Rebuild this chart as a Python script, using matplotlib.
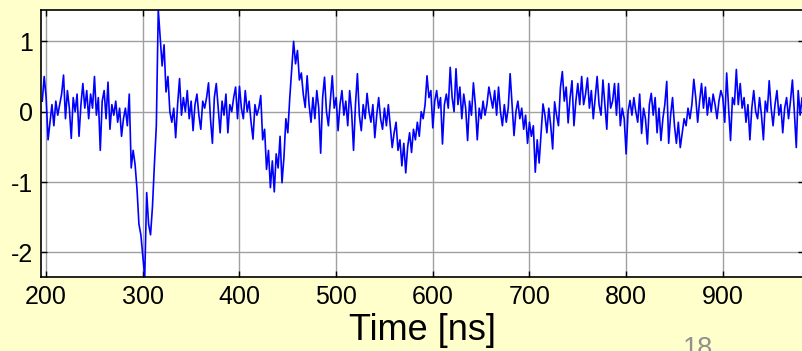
"""
Scope trace vs time, redrawn from the slide figure
"""
import numpy as np
import matplotlib.pyplot as plt

plt.rcParams['font.family'] = ['Liberation Sans', 'DejaVu Sans']

# sample times [ns], 2 ns steps from 196 to 984
t_start = 196
t_step = 2

# signal, 10 samples (20 ns) per row
signal = [
    0.15, 0.50, 0.20, -0.40, -0.15, 0.10, -0.20, 0.15, -0.05, 0.10,
    0.25, 0.52, -0.10, 0.30, 0.05, -0.38, 0.20, 0.00, 0.25, -0.35,
    0.10, 0.40, 0.05, 0.30, -0.10, 0.25, 0.05, 0.50, -0.05, 0.20,
    -0.55, 0.15, 0.30, -0.10, 0.42, -0.25, 0.10, -0.05, 0.15, -0.15,
    0.05, -0.35, -0.10, 0.05, -0.20, 0.25, -0.80, -0.55, -0.75, -1.10,
    -1.60, -1.75, -2.05, -2.35, -1.15, -1.60, -1.75, -1.35, -0.75, -0.20,
    1.45, 1.05, 0.65, 0.95, 0.28, 0.50, 0.00, -0.15, 0.05, -0.37,
    0.10, 0.47, -0.05, 0.20, 0.00, 0.30, -0.10, 0.15, -0.27, 0.10,
    0.25, -0.05, -0.25, 0.15, 0.05, 0.20, 0.41, -0.10, -0.45, 0.20,
    0.40, 0.05, -0.30, 0.15, -0.05, 0.25, -0.30, 0.10, 0.00, 0.20,
    0.35, -0.10, 0.36, 0.05, -0.10, 0.30, 0.00, 0.15, -0.15, -0.39,
    0.10, -0.05, 0.05, 0.23, -0.40, -0.25, -0.82, -0.55, -1.08, -0.70,
    -1.14, -0.60, -0.80, -0.35, -1.01, -0.65, -0.10, -0.30, 0.19, 0.60,
    1.00, 0.68, 0.87, 0.45, 0.55, 0.25, 0.06, 0.51, 0.10, -0.15,
    0.20, -0.10, 0.30, 0.05, -0.59, 0.20, 0.49, 0.00, -0.20, 0.15,
    0.51, 0.05, 0.20, -0.27, 0.10, 0.30, -0.05, 0.15, -0.20, 0.30,
    0.00, -0.55, 0.10, 0.54, -0.05, -0.27, 0.10, -0.10, 0.26, 0.00,
    -0.15, 0.10, -0.37, -0.05, 0.20, -0.10, -0.25, 0.05, -0.20, 0.10,
    -0.20, -0.51, -0.30, -0.15, -0.55, -0.40, -0.77, -0.45, -0.87, -0.50,
    -0.30, -0.58, -0.25, -0.40, -0.15, -0.35, 0.00, -0.10, 0.10, 0.51,
    0.20, 0.30, -0.23, 0.15, 0.30, 0.05, 0.20, -0.46, 0.10, 0.25,
    0.05, 0.63, 0.20, 0.00, 0.61, 0.10, 0.35, -0.10, 0.25, 0.05,
    -0.41, 0.15, -0.05, 0.41, 0.10, -0.40, 0.05, -0.10, 0.15, -0.05,
    0.10, 0.35, 0.20, 0.05, 0.30, -0.05, 0.35, 0.00, -0.20, 0.10,
    -0.15, 0.05, 0.54, 0.10, -0.34, 0.00, 0.15, -0.10, 0.05, -0.25,
    -0.05, -0.45, -0.15, -0.35, -0.20, -0.86, -0.40, -0.73, -0.30, 0.11,
    -0.05, -0.30, 0.05, -0.20, -0.53, 0.14, -0.05, -0.20, 0.34, 0.57,
    0.15, 0.35, -0.16, 0.20, 0.44, -0.20, 0.15, 0.40, 0.10, 0.50,
    0.10, 0.25, 0.48, 0.05, 0.30, -0.10, 0.20, 0.50, 0.10, -0.05,
    0.45, 0.10, -0.25, 0.40, 0.05, 0.15, 0.40, -0.05, 0.40, -0.20,
    0.05, -0.10, -0.60, 0.00, 0.16, -0.05, 0.20, 0.00, -0.15, 0.25,
    -0.31, 0.05, -0.10, -0.46, 0.10, 0.26, -0.05, 0.20, -0.30, 0.05,
    -0.41, -0.10, 0.10, 0.43, -0.45, -0.05, 0.20, -0.20, -0.45, -0.15,
    -0.51, -0.30, -0.10, -0.20, 0.05, -0.10, 0.10, 0.46, 0.20, -0.15,
    0.15, 0.40, 0.05, 0.35, -0.05, 0.20, 0.00, 0.25, 0.10, -0.10,
    0.15, 0.30, 0.20, -0.15, 0.55, 0.05, -0.41, 0.20, 0.10, 0.60,
    0.10, 0.40, 0.05, 0.20, -0.15, 0.10, -0.40, 0.05, 0.30, 0.00,
    -0.10, 0.20, -0.05, -0.40, 0.15, 0.00, 0.44, 0.05, -0.20, 0.10,
    0.30, -0.05, 0.10, -0.30, 0.05, 0.20, -0.10, 0.15, 0.45, 0.00,
    -0.51, 0.30, -0.05, 0.20, 0.00,
]

x_ticks = [200, 300, 400, 500, 600, 700, 800, 900]
y_ticks = [-2, -1, 0, 1]

time_ns = t_start + t_step * np.arange(len(signal))

fig = plt.figure(figsize=(8.02, 3.51), dpi=100, facecolor='#FFFFCC')
ax = fig.add_axes([0.0515, 0.2108, 0.951, 0.7607])
ax.set_facecolor('white')

ax.plot(time_ns, signal, color='#0000FF', linewidth=1.2)

ax.set_xlim(195, 984)
ax.set_ylim(-2.35, 1.445)
ax.set_xticks(x_ticks)
ax.set_yticks(y_ticks)
ax.set_xticklabels([str(v) for v in x_ticks])
ax.set_yticklabels([str(v) for v in y_ticks])

ax.grid(True, color='#a0a0a0', linewidth=1.0)
ax.set_axisbelow(True)
ax.tick_params(direction='in', length=4, width=1, top=True, right=True,
               labelsize=18, pad=6, colors='black')
for s in ax.spines.values():
    s.set_color('black')
    s.set_linewidth(1.2)

fig.text(423 / 802, 0.03, 'Time [ns]', fontsize=26, ha='center', va='baseline')
# slide page number, partly below the picture edge as in the slide
fig.text(698 / 802, -0.014, '18', fontsize=19.5, color='#909090',
         ha='center', va='baseline')

fig.savefig('out.png', dpi=100, facecolor=fig.get_facecolor())
